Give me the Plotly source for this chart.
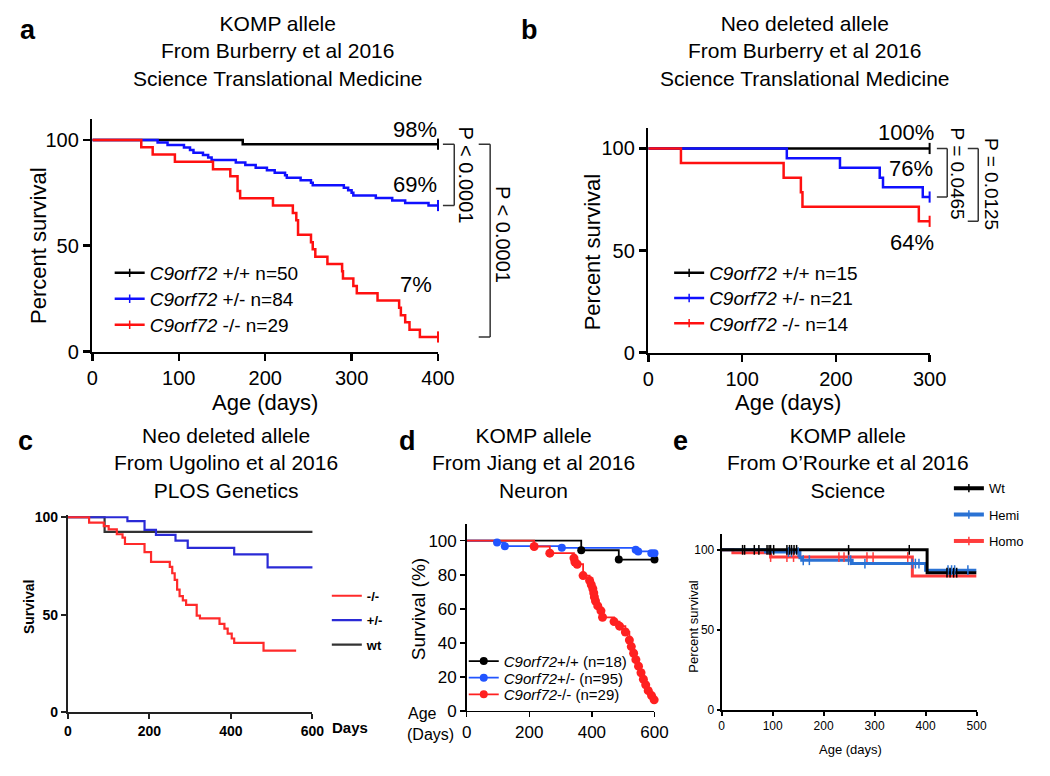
import numpy as np
import plotly.graph_objects as go

W, H = 1050, 776
FONT = "Arial, 'Liberation Sans', Helvetica, sans-serif"


def px(x):
    return x / W


def py(y):
    return 1 - y / H


# ---------------- Panel a (KOMP, Burberry) ----------------
a_wt_t = [0, 174, 400]
a_wt_s = [100, 98, 98]
a_het_t = [0, 75.5, 87, 106, 113, 117, 128, 134, 138, 166, 177, 189, 202, 211, 223, 225,
           241, 253, 255, 291, 296, 300, 302, 328, 347, 362, 389, 400]
a_het_s = [100, 98.8, 97.6, 96.4, 95.2, 94.0, 92.9, 91.7, 90.5, 89.3, 88.1, 86.9, 85.7, 84.5,
           83.3, 82.1, 81.0, 79.8, 78.6, 77.4, 76.2, 75.0, 73.8, 72.6, 71.4, 70.2, 69.0, 69.0]
a_ko_t = [0, 56.6, 69.8, 95.5, 139.6, 159.6, 168, 171, 209, 232, 236, 238, 253, 255, 258, 272,
          289, 290, 302, 306, 330, 355, 357, 362, 367, 379, 400]
a_ko_s = [100, 96.6, 93.1, 89.7, 86.2, 82.8, 75.9, 72.4, 69.0, 65.5, 62.1, 55.2, 51.7, 48.3,
          44.8, 41.4, 37.9, 34.5, 31.0, 27.6, 24.1, 20.7, 17.2, 13.8, 10.3, 6.9, 6.9]
a_xticks = [0, 100, 200, 300, 400]
a_names = ["<i>C9orf72</i> +/+ n=50", "<i>C9orf72</i> +/- n=84", "<i>C9orf72</i> -/- n=29"]
a_pct = ["98%", "69%", "7%"]
a_pvals = ["P < 0.0001", "P < 0.0001"]

# ---------------- Panel b (Neo deleted, Burberry) ----------------
b_wt_t = [0, 300]
b_wt_s = [100, 100]
b_het_t = [0, 147.7, 204.4, 246.8, 250.3, 292.7, 300]
b_het_s = [100, 95.2, 90.5, 85.7, 81.0, 76.2, 76.2]
b_ko_t = [0, 34.8, 144.3, 162.7, 164.4, 288.5, 300]
b_ko_s = [100, 92.9, 85.7, 78.6, 71.4, 64.3, 64.3]
b_xticks = [0, 100, 200, 300]
b_names = ["<i>C9orf72</i> +/+ n=15", "<i>C9orf72</i> +/- n=21", "<i>C9orf72</i> -/- n=14"]
b_pct = ["100%", "76%", "64%"]
b_pvals = ["P = 0.0465", "P = 0.0125"]

# ---------------- Panel c (Ugolino) ----------------
c_wt_t = [0, 90, 606]
c_wt_s = [100, 92.5, 92.5]
c_het_t = [0, 146, 188, 216, 264, 294, 408, 490, 608]
c_het_s = [100, 98, 93.5, 91, 88, 84.3, 81, 74.3, 74.3]
c_ko_t = [0, 52, 88, 100, 120, 134, 140, 188, 204, 250, 256, 262, 268, 274, 282, 290, 316,
          324, 372, 384, 392, 402, 408, 480, 560]
c_ko_s = [100, 97.2, 95.5, 93.8, 91.3, 89.6, 86.3, 82.1, 77.1, 74.6, 71.3, 67.9, 62.9, 59.6,
          57.4, 55.1, 49.6, 48.2, 45.4, 42.9, 40.4, 37.9, 35.7, 31.7, 31.7]
c_xticks = [0, 200, 400, 600]
c_names = ["-/-", "+/-", "wt"]

# ---------------- Panel d (Jiang) ----------------
d_wt_t = [0, 366, 486, 600]
d_wt_s = [100, 94.4, 88.9, 88.9]
d_het_t = [0, 97, 122, 304, 540, 548, 590, 600]
d_het_s = [100, 98.9, 96.8, 95.8, 94.7, 93.7, 92.6, 92.6]
d_ko_t = [0, 215.6, 265.6, 342.7, 345.8, 353, 372, 392.7, 398, 403, 406, 408, 411.5, 418.8,
          429, 434, 470.8, 488.5, 507, 519.8, 526, 533.4, 540.6, 549, 557, 564.6, 572, 580,
          590.6, 599]
d_ko_s = [100, 96.6, 92.7, 89.8, 87.5, 86.2, 79.5, 76.6, 74.1, 71.8, 69.3, 66.9, 64.6, 61.7,
          58.8, 55.0, 52.5, 49.8, 46.4, 41.6, 37.8, 33.9, 30.1, 26.3, 22.4, 18.6, 15.3, 11.9,
          9.0, 6.5]
d_xticks = [0, 200, 400, 600]
d_yticks = [0, 20, 40, 60, 80, 100]
d_names = ["<i>C9orf72</i>+/+ (n=18)", "<i>C9orf72</i>+/- (n=95)", "<i>C9orf72</i>-/- (n=29)"]

# ---------------- Panel e (O'Rourke) ----------------
e_wt_t = [0, 403, 500]
e_wt_s = [100, 85.7, 85.7]
e_het_t = [0, 86, 153.5, 157, 256, 400, 500]
e_het_s = [100, 98.6, 95.1, 93.5, 91.4, 87.3, 87.3]
e_ko_t = [0, 22, 96, 374, 500]
e_ko_s = [100, 98.2, 95.5, 83.7, 83.7]
e_wt_cens = [41, 45, 64, 73, 89, 93, 96, 102, 128, 133, 137, 142, 147, 249, 368, 442, 448, 455, 461]
e_het_cens = [131, 137, 150, 160, 172, 249, 253, 281, 374, 380, 387, 444, 451, 457, 483]
e_ko_cens = [96, 128, 141, 230, 240, 249, 285, 297, 365]
e_xticks = [0, 100, 200, 300, 400, 500]
e_names = ["Wt", "Hemi", "Homo"]

fig = go.Figure()


def axref(n):
    return ("x", "y") if n == 1 else (f"x{n}", f"y{n}")


def curve(n, t, s, color, width):
    xa, ya = axref(n)
    fig.add_trace(go.Scatter(x=t, y=s, mode="lines", line=dict(color=color, width=width, shape="hv"),
                             xaxis=xa, yaxis=ya, showlegend=False, hoverinfo="skip"))


def marks(n, t, s, color, symbol, size, lw=2):
    xa, ya = axref(n)
    if symbol.endswith("open"):
        mk = dict(symbol=symbol, size=size, color=color, line=dict(color=color, width=lw))
    else:
        mk = dict(symbol=symbol, size=size, color=color, line=dict(width=0))
    fig.add_trace(go.Scatter(x=t, y=s, mode="markers", marker=mk, cliponaxis=False,
                             xaxis=xa, yaxis=ya, showlegend=False, hoverinfo="skip"))


def step_at(t, s, q):
    i = np.searchsorted(np.asarray(t, float), np.asarray(q, float), side="right") - 1
    return np.asarray(s, float)[i].tolist()


leg_count = [0]
legends = {}


def legend_item(n, name, color, width, lx, ly, size, marker=None, bold=False):
    leg_count[0] += 1
    lid = "legend" if leg_count[0] == 1 else f"legend{leg_count[0]}"
    xa, ya = axref(n)
    fig.add_trace(go.Scatter(x=[None], y=[None], mode="lines+markers" if marker else "lines",
                             line=dict(color=color, width=width), marker=marker, name=name,
                             legend=lid, xaxis=xa, yaxis=ya, showlegend=True))
    legends[lid] = dict(x=px(lx), y=py(ly), xanchor="left", yanchor="middle",
                        bgcolor="rgba(0,0,0,0)", borderwidth=0,
                        font=dict(family=FONT, size=size, color="black",
                                  weight="bold" if bold else "normal"))


BLK, BLU, RED = "#000000", "#1010ff", "#ff1010"

# panel a
curve(1, a_wt_t, a_wt_s, BLK, 2.5)
curve(1, a_het_t, a_het_s, BLU, 2.5)
curve(1, a_ko_t, a_ko_s, RED, 2.5)
for t, s, c in [(a_wt_t, a_wt_s, BLK), (a_het_t, a_het_s, BLU), (a_ko_t, a_ko_s, RED)]:
    marks(1, [t[-1]], [s[-1]], c, "line-ns-open", 8)
tick_mk = lambda c: dict(symbol="line-ns-open", size=6, color=c, line=dict(color=c, width=1.5))
for i, (nm, c) in enumerate(zip(a_names, [BLK, BLU, RED])):
    legend_item(1, nm, c, 2.5, 106, 273 + 26.5 * i, 19, marker=tick_mk(c))

# panel b
curve(2, b_wt_t, b_wt_s, BLK, 2.5)
curve(2, b_het_t, b_het_s, BLU, 2.5)
curve(2, b_ko_t, b_ko_s, RED, 2.5)
for t, s, c in [(b_wt_t, b_wt_s, BLK), (b_het_t, b_het_s, BLU), (b_ko_t, b_ko_s, RED)]:
    marks(2, [t[-1]], [s[-1]], c, "line-ns-open", 8)
for i, (nm, c) in enumerate(zip(b_names, [BLK, BLU, RED])):
    legend_item(2, nm, c, 2.5, 678, 273 + 25.7 * i, 19, marker=tick_mk(c))

# panel c
C_BLK, C_BLU, C_RED = "#333333", "#2a2ad6", "#ff2a2a"
curve(3, c_wt_t, c_wt_s, C_BLK, 2.2)
curve(3, c_het_t, c_het_s, C_BLU, 2.2)
curve(3, c_ko_t, c_ko_s, C_RED, 2.2)
for i, (nm, c) in enumerate(zip(c_names, [C_RED, C_BLU, C_BLK])):
    legend_item(3, nm, c, 2.2, 328, 603 + 25 * i, 13, bold=True)

# panel d
D_BLK, D_BLU, D_RED = "#000000", "#2255ff", "#ff2020"
curve(4, d_wt_t, d_wt_s, D_BLK, 1.8)
curve(4, d_het_t, d_het_s, D_BLU, 1.8)
curve(4, d_ko_t, d_ko_s, D_RED, 1.8)
marks(4, d_wt_t[1:], d_wt_s[1:], D_BLK, "circle", 8)
marks(4, d_het_t[1:], d_het_s[1:], D_BLU, "circle", 8)
marks(4, d_ko_t[1:], d_ko_s[1:], D_RED, "circle", 9)
for i, (nm, c) in enumerate(zip(d_names, [D_BLK, D_BLU, D_RED])):
    legend_item(4, nm, c, 1.8, 468, 670 + 17 * i, 15,
                marker=dict(symbol="circle", size=8, color=c))

# panel e
E_BLK, E_BLU, E_RED = "#000000", "#2a72d4", "#ff3c3c"
curve(5, e_ko_t, e_ko_s, E_RED, 3)
curve(5, e_het_t, e_het_s, E_BLU, 3)
curve(5, e_wt_t, e_wt_s, E_BLK, 3)
marks(5, e_ko_cens, step_at(e_ko_t, e_ko_s, e_ko_cens), E_RED, "line-ns-open", 7, 1.5)
marks(5, e_het_cens, step_at(e_het_t, e_het_s, e_het_cens), E_BLU, "line-ns-open", 7, 1.5)
marks(5, e_wt_cens, step_at(e_wt_t, e_wt_s, e_wt_cens), E_BLK, "line-ns-open", 7, 1.5)
for i, (nm, c) in enumerate(zip(e_names, [E_BLK, E_BLU, E_RED])):
    legend_item(5, nm, c, 4, 964, 493 + 27 * i, 13, marker=tick_mk(c))


# ---------------- axes ----------------
def axis(domain, rng, tickvals, fsize, lw, tlen, color="black", bold=False, anchor=None):
    return dict(domain=domain, range=rng, tickvals=tickvals, showgrid=False, zeroline=False,
                showline=True, linecolor=color, linewidth=lw, ticks="outside", ticklen=tlen,
                tickwidth=lw, tickcolor=color, anchor=anchor, fixedrange=True,
                tickfont=dict(family=FONT, size=fsize, color="black",
                              weight="bold" if bold else "normal"))


layout_axes = {
    "xaxis": axis([px(88.3), px(441.7)], [0, 400], a_xticks, 20, 2.5, 7, anchor="y"),
    "yaxis": axis([py(353.3), py(115.3)], [0, 110], [0, 50, 100], 20, 2.5, 7, anchor="x"),
    "xaxis2": axis([px(656.7), px(944.3)], [0, 300], b_xticks, 20, 2.5, 7, anchor="y2"),
    "yaxis2": axis([py(354.3), py(124.8)], [0, 110], [0, 50, 100], 20, 2.5, 7, anchor="x2"),
    "xaxis3": axis([px(63.3), px(313.3)], [0, 600], c_xticks, 14, 2, 5, "#222", True, anchor="y3"),
    "yaxis3": axis([py(722.3), py(520.7)], [0, 101], [0, 50, 100], 14, 2, 5, "#222", True, anchor="x3"),
    "xaxis4": axis([px(471), px(663)], [0, 600], d_xticks, 17, 1.5, 5, anchor="y4"),
    "yaxis4": axis([py(720.7), py(529.3)], [0, 110], d_yticks, 17, 1.5, 5, anchor="x4"),
    "xaxis5": axis([px(731.7), px(992.3)], [0, 500], e_xticks, 12, 2, 4, anchor="y5"),
    "yaxis5": axis([py(719.3), py(539.7)], [0, 110], [0, 50, 100], 12, 2, 3, anchor="x5"),
}

ann = []


def text(x, y, s, size, angle=0, bold=False, xanchor="center", color="black"):
    ann.append(dict(x=px(x), y=py(y), xref="paper", yref="paper", text=s, showarrow=False,
                    textangle=angle, xanchor=xanchor, yanchor="middle",
                    font=dict(family=FONT, size=size, color=color,
                              weight="bold" if bold else "normal")))


# panel titles
text(278, 46, "KOMP allele<br>From Burberry et al 2016<br>Science Translational Medicine", 21)
text(817, 46, "Neo deleted allele<br>From Burberry et al 2016<br>Science Translational Medicine", 21)
text(225, 467, "Neo deleted allele<br>From Ugolino et al 2016<br>PLOS Genetics", 21)
text(539, 467, "KOMP allele<br>From Jiang et al 2016<br>Neuron", 21)
text(861, 467, "KOMP allele<br>From O’Rourke et al 2016<br>Science", 21)
# panel letters
for lt, x, y in [("a", 22, 25), ("b", 535, 25), ("c", 20, 445), ("d", 410, 445), ("e", 690, 445)]:
    text(x, y, lt, 27, bold=True)
# axis titles
text(33, 245, "Percent survival", 22, angle=-90)
text(265, 405, "Age (days)", 22)
text(600, 251, "Percent survival", 22, angle=-90)
text(800, 405, "Age (days)", 22)
text(23, 614, "Survival", 14, angle=-90, bold=True)
text(352, 738, "Days", 15, bold=True)
text(422, 617, "Survival (%)", 19, angle=-90)
text(426, 723, "Age", 16)
text(434, 745, "(Days)", 16)
text(702, 634, "Percent survival", 13, angle=-90)
text(863, 760, "Age (days)", 13)
# percent labels
for s, (x, y) in zip(a_pct, [(418, 126), (418, 183), (419, 285)]):
    text(x, y, s, 22)
for s, (x, y) in zip(b_pct, [(920, 129), (925, 166), (926, 242)]):
    text(x, y, s, 22)
# p values
text(470, 173, a_pvals[0], 20, angle=90)
text(508, 234, a_pvals[1], 20, angle=90)
text(973, 171, b_pvals[0], 19, angle=90)
text(1008, 182, b_pvals[1], 19, angle=90)

shapes = []


def bracket(x0, x1, ya, yb, yref):
    for (sx0, sy0, sx1, sy1) in [(x0, ya, x1, ya), (x1, ya, x1, yb), (x0, yb, x1, yb)]:
        shapes.append(dict(type="line", xref="paper", yref=yref, x0=px(sx0), x1=px(sx1),
                           y0=sy0, y1=sy1, line=dict(color="#333333", width=1.5)))


bracket(446.7, 458.3, a_wt_s[-1], a_het_s[-1], "y")
bracket(483.3, 495, a_wt_s[-1], a_ko_s[-1], "y")
bracket(951.7, 962.3, b_wt_s[-1], b_het_s[-1], "y2")
bracket(983.3, 994, b_wt_s[-1], b_ko_s[-1], "y2")

fig.update_layout(width=W, height=H, autosize=False, margin=dict(l=0, r=0, t=0, b=0),
                  paper_bgcolor="white", plot_bgcolor="white",
                  font=dict(family=FONT, color="black"),
                  annotations=ann, shapes=shapes, **layout_axes, **legends)

fig.write_html(
    "out.html",
    config={"displayModeBar": False, "staticPlot": True},
    post_script=("document.documentElement.style.margin='0px';"
                 "document.body.style.margin='0px';"
                 "document.documentElement.style.overflow='hidden';"
                 "document.body.style.overflow='hidden';"),
)
